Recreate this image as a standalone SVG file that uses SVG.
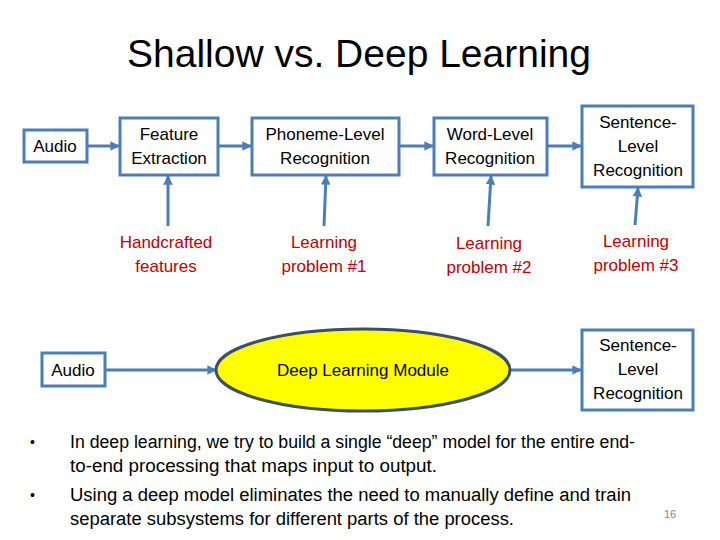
<svg xmlns="http://www.w3.org/2000/svg" width="720" height="540" viewBox="0 0 720 540">
<style>
.box{fill:#fff;stroke:#4A7EBB;stroke-width:3}
.t{font-family:"Liberation Sans",Arial,sans-serif;font-size:17px;fill:#000;text-anchor:middle}
.r{font-family:"Liberation Sans",Arial,sans-serif;font-size:17px;fill:#C00000;text-anchor:middle}
.b{font-family:"Liberation Sans",Arial,sans-serif;font-size:18px;fill:#000}
.d{font-family:"Liberation Sans",Arial,sans-serif;font-size:14px;fill:#000}
.c{stroke:#4A7EBB;stroke-width:3;fill:none;marker-end:url(#ah)}
</style>
<defs>
<marker id="ah" viewBox="0 0 10 10" refX="9" refY="5" markerWidth="3.2" markerHeight="3.2" orient="auto" markerUnits="strokeWidth">
<path d="M0,0 L10,5 L0,10 z" fill="#4A7EBB"/>
</marker>
</defs>
<rect width="720" height="540" fill="#fff"/>
<text x="359" y="67" font-family="'Liberation Sans',Arial,sans-serif" font-size="39" text-anchor="middle">Shallow vs. Deep Learning</text>

<g id="connectors">
<line class="c" x1="87" y1="146" x2="119" y2="146"/>
<line class="c" x1="218" y1="146" x2="251" y2="146"/>
<line class="c" x1="399" y1="146" x2="433" y2="146"/>
<line class="c" x1="547" y1="146" x2="581" y2="146"/>
<line class="c" x1="168" y1="226" x2="168" y2="176"/>
<line class="c" x1="324" y1="226" x2="326" y2="176"/>
<line class="c" x1="488" y1="226" x2="491" y2="176"/>
<line class="c" x1="635" y1="225" x2="638" y2="188"/>
<line class="c" x1="105" y1="370" x2="216" y2="370"/>
<line class="c" x1="510" y1="370" x2="581" y2="370"/>
</g>

<g id="audio1"><rect class="box" x="24" y="130" width="63" height="32"/><text class="t" x="55" y="152">Audio</text></g>
<g id="feature"><rect class="box" x="120" y="118" width="98" height="57"/><text class="t" x="169" y="140">Feature</text><text class="t" x="169" y="164">Extraction</text></g>
<g id="phoneme"><rect class="box" x="252" y="118" width="147" height="57"/><text class="t" x="325" y="140">Phoneme-Level</text><text class="t" x="325" y="164">Recognition</text></g>
<g id="word"><rect class="box" x="434" y="118" width="113" height="57"/><text class="t" x="490" y="140">Word-Level</text><text class="t" x="490" y="164">Recognition</text></g>
<g id="sentence1"><rect class="box" x="582" y="106" width="111" height="81"/><text class="t" x="638" y="128">Sentence-</text><text class="t" x="638" y="152">Level</text><text class="t" x="638" y="176">Recognition</text></g>

<g id="handcrafted"><text class="r" x="166" y="248">Handcrafted</text><text class="r" x="166" y="272">features</text></g>
<g id="lp1"><text class="r" x="324" y="248">Learning</text><text class="r" x="324" y="272">problem #1</text></g>
<g id="lp2"><text class="r" x="489" y="249">Learning</text><text class="r" x="489" y="273">problem #2</text></g>
<g id="lp3"><text class="r" x="636" y="247">Learning</text><text class="r" x="636" y="271">problem #3</text></g>

<g id="audio2"><rect class="box" x="42" y="353" width="63" height="33"/><text class="t" x="73" y="376">Audio</text></g>
<g id="deep"><ellipse cx="363" cy="370" rx="147" ry="41" fill="#FFFF00" stroke="#3B5068" stroke-width="3"/><text class="t" x="363" y="376">Deep Learning Module</text></g>
<g id="sentence2"><rect class="box" x="582" y="330" width="111" height="80"/><text class="t" x="638" y="351">Sentence-</text><text class="t" x="638" y="375">Level</text><text class="t" x="638" y="399">Recognition</text></g>

<g id="bullets">
<text class="d" x="30" y="447">•</text>
<text class="b" x="70" y="448" textLength="565" lengthAdjust="spacingAndGlyphs">In deep learning, we try to build a single “deep” model for the entire end-</text>
<text class="b" x="70" y="472" textLength="367" lengthAdjust="spacingAndGlyphs">to-end processing that maps input to output.</text>
<text class="d" x="30" y="500">•</text>
<text class="b" x="70" y="501" textLength="561" lengthAdjust="spacingAndGlyphs">Using a deep model eliminates the need to manually define and train</text>
<text class="b" x="70" y="525" textLength="444" lengthAdjust="spacingAndGlyphs">separate subsystems for different parts of the process.</text>
<text x="670" y="518" font-family="'Liberation Sans',Arial,sans-serif" font-size="11" fill="#888" text-anchor="middle">16</text>
</g>
</svg>
